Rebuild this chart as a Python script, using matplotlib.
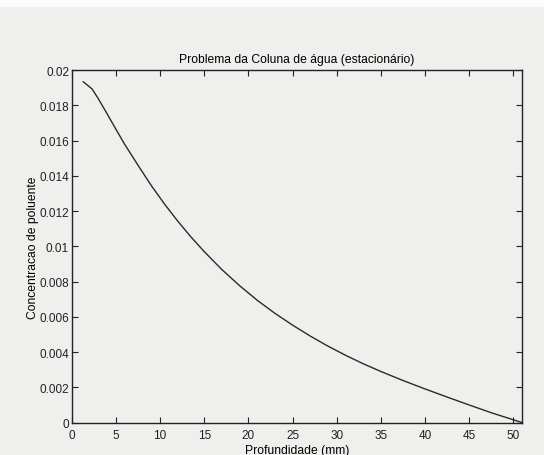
import matplotlib
matplotlib.use('Agg')
import matplotlib.pyplot as plt
from matplotlib.patches import Rectangle
from matplotlib.ticker import FormatStrFormatter

plt.rcParams['font.family'] = ['Liberation Sans', 'DejaVu Sans']

# values
profundidade = [1.3, 2.3, 3.0, 4.0, 5.0, 6.0, 7.5, 9.0, 10.5, 12.0, 13.5, 15.0,
                17.0, 19.0, 21.0, 23.0, 25.0, 27.0, 29.0, 31.0, 33.0, 35.0,
                37.5, 40.0, 42.5, 45.0, 47.5, 49.5, 51.0]
concentracao = [0.01934, 0.01893, 0.01838, 0.01752, 0.01664, 0.01578, 0.01460,
                0.01345, 0.01240, 0.01143, 0.01053, 0.00970, 0.00868, 0.00777,
                0.00694, 0.00620, 0.00553, 0.00491, 0.00434, 0.00382, 0.00334,
                0.00290, 0.00239, 0.00191, 0.00145, 0.00100, 0.00056, 0.00024,
                0.0]

x_ticks = list(range(0, 51, 5))
y_ticks = [0, 0.002, 0.004, 0.006, 0.008, 0.01, 0.012, 0.014, 0.016, 0.018, 0.02]

bg = '#efefed'
fig = plt.figure(figsize=(5.44, 4.56), dpi=100, facecolor=bg)
# whiter strip along the top edge of the scan
fig.patches.append(Rectangle((0, 0.982), 1, 0.018, transform=fig.transFigure,
                             facecolor='#fbfbfb', edgecolor='none', zorder=0))
ax = fig.add_axes([0.132, 0.071, 0.828, 0.773], facecolor=bg)

ax.plot(profundidade, concentracao, color='#2a2a2a', linewidth=1.0)

ax.set_xlim(0, 51)
ax.set_ylim(0, 0.02)
ax.set_xticks(x_ticks)
ax.set_yticks(y_ticks)
ax.yaxis.set_major_formatter(FormatStrFormatter('%g'))
ax.tick_params(direction='in', top=True, right=True, labelsize=8.5,
               length=4, width=0.8, colors='#222222')
ax.tick_params(axis='x', pad=4.5)
ax.tick_params(axis='y', pad=2)
for s in ax.spines.values():
    s.set_linewidth(1.0)
    s.set_color('#222222')

ax.set_title('Problema da Coluna de água (estacionário)', fontsize=8.7, pad=6)
ax.set_xlabel('Profundidade (mm)', fontsize=8.7, labelpad=2.5)
ax.set_ylabel('Concentracao de poluente', fontsize=8.7, labelpad=0.5)

fig.savefig('out.png', dpi=100, facecolor=bg)
